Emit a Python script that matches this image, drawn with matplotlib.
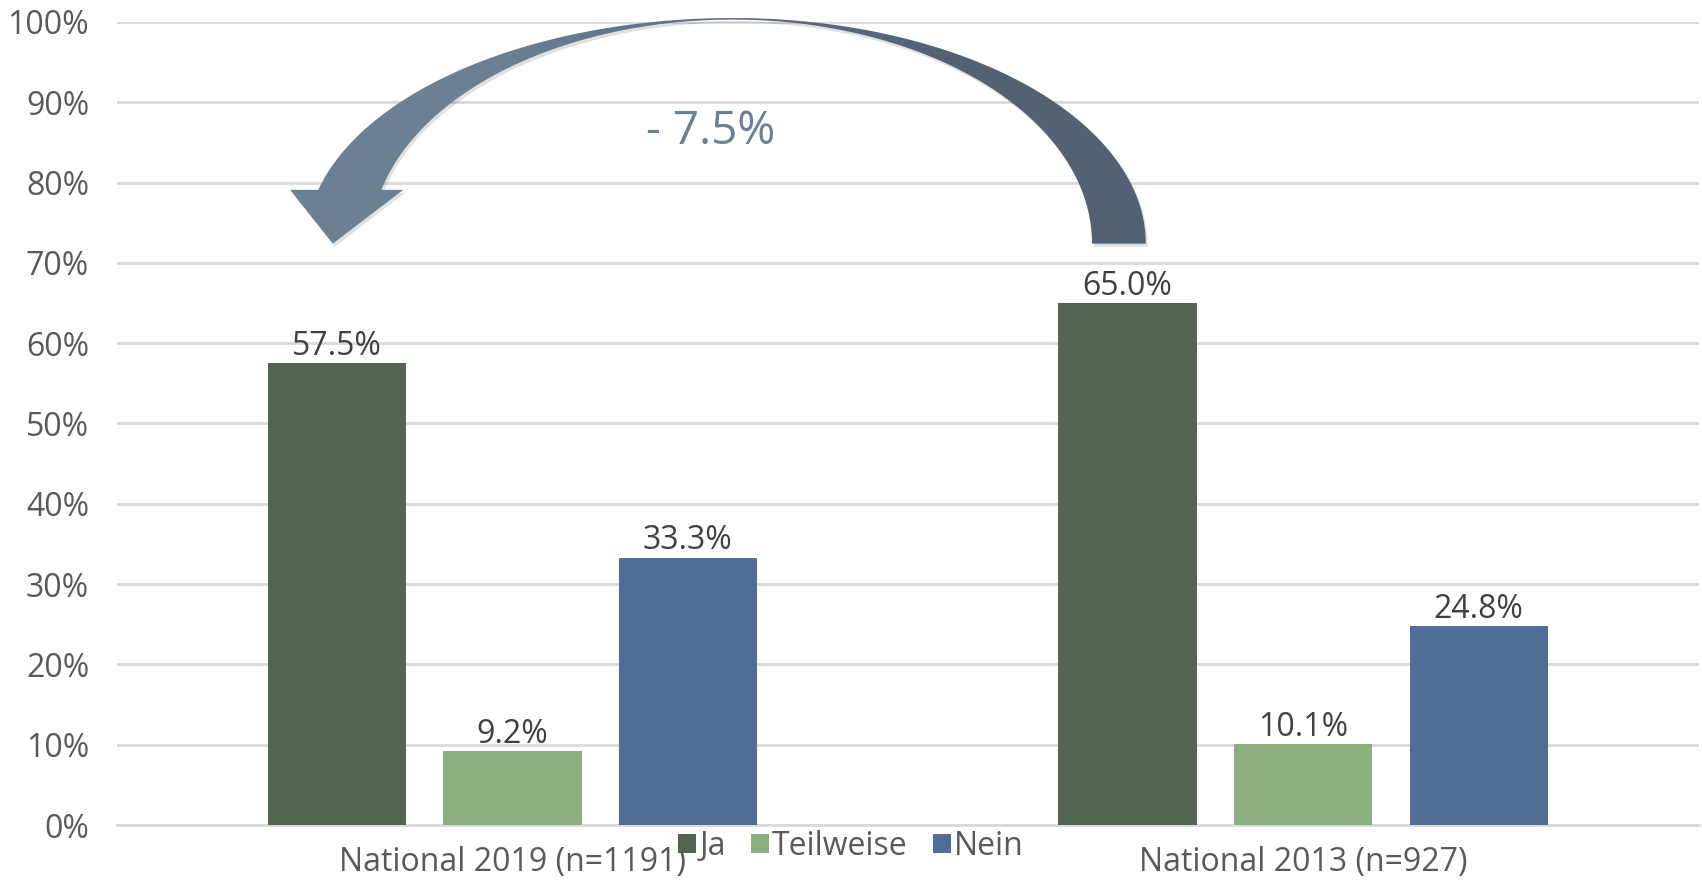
import numpy as np
import matplotlib
matplotlib.use("Agg")
import matplotlib.pyplot as plt
from matplotlib.patches import Patch, PathPatch
from matplotlib.path import Path

plt.rcParams['font.family'] = ['Open Sans', 'DejaVu Sans']

groups = ['National 2019 (n=1191)', 'National 2013 (n=927)']
series = ['Ja', 'Teilweise', 'Nein']
values = {
    'Ja': [57.5, 65.0],
    'Teilweise': [9.2, 10.1],
    'Nein': [33.3, 24.8],
}
colors = {'Ja': '#546452', 'Teilweise': '#8caf7e', 'Nein': '#506e95'}
change_label = '- 7.5%'

fig = plt.figure(figsize=(17.02, 8.8), dpi=100)
ax = fig.add_axes([0.0687, 0.0625, 0.9293, 0.9125])

x = np.arange(len(groups))
width = 0.175
step = 0.222
for i, s in enumerate(series):
    pos = x + (i - 1) * step
    ax.bar(pos, values[s], width, color=colors[s], label=s, zorder=3)
    for px, v in zip(pos, values[s]):
        ax.annotate(f'{v:.1f}%', (px, v), xytext=(0, 6), textcoords='offset points',
                    ha='center', va='baseline', fontsize=23, color='#404040')

ax.set_xlim(-0.5, 1.5)
ax.set_ylim(0, 100)
ax.set_yticks(np.arange(0, 101, 10))
ax.set_yticklabels([f'{t}%' for t in range(0, 101, 10)])
ax.set_xticks(x)
ax.set_xticklabels(groups)
ax.tick_params(axis='both', length=0, labelsize=23, labelcolor='#595959')
ax.tick_params(axis='y', pad=20)
ax.tick_params(axis='x', pad=15)
ax.grid(axis='y', color='#d9d9d9', linewidth=2, zorder=0)
for sp in ['top', 'right', 'left']:
    ax.spines[sp].set_visible(False)
ax.spines['bottom'].set_color('#d9d9d9')
ax.spines['bottom'].set_linewidth(2)

# curved arrow from 2013 "Ja" back to 2019 "Ja"
cx, cy = 0.279, 72.4
a_out_r, a_out_l, b_out = 0.522, 0.540, 28.1
a_in_r, a_in_l, b_in = 0.454, 0.458, 27.9
head_y = 79.1
head_l, head_r, tip_x, tip_y = -0.281, -0.138, -0.227, 72.4

def arc(a_r, a_l, b, t_end, n=120):
    t = np.linspace(0, t_end, n)
    a = np.where(t <= np.pi / 2, a_r, a_l)
    return cx + a * np.cos(t), cy + b * np.sin(t)

t_in = np.pi - np.arcsin((head_y - cy) / b_in)
t_out = np.pi - np.arcsin((head_y - cy) / b_out)
xi, yi = arc(a_in_r, a_in_l, b_in, t_in)
xo, yo = arc(a_out_r, a_out_l, b_out, t_out)
px = list(xi) + [head_r, tip_x, head_l] + list(xo[::-1])
py = list(yi) + [head_y, tip_y, head_y] + list(yo[::-1])
verts = list(zip(px, py)) + [(px[0], py[0])]
codes = [Path.MOVETO] + [Path.LINETO] * (len(verts) - 2) + [Path.CLOSEPOLY]
path = Path(verts, codes)

shadow = PathPatch(path, facecolor='#000000', edgecolor='none', alpha=0.12,
                   clip_on=False, zorder=4,
                   transform=ax.transData + matplotlib.transforms.ScaledTranslation(2/100, -3/100, fig.dpi_scale_trans))
ax.add_patch(shadow)
patch = PathPatch(path, facecolor='none', edgecolor='none', clip_on=False, zorder=5)
ax.add_patch(patch)
grad = np.linspace(0, 1, 256).reshape(1, -1)
cmap = matplotlib.colors.LinearSegmentedColormap.from_list(
    'arr', ['#6b8093', '#6b8093', '#5d6e80', '#536273', '#536273'])
im = ax.imshow(grad, cmap=cmap, aspect='auto', extent=(-0.3, 0.85, 72, 101), zorder=5)
im.set_clip_box(fig.bbox)
im.set_clip_path(patch)

ax.text(0.251, 86.3, change_label, ha='center', va='center', fontsize=33, color='#6b8093', zorder=6)

handles = [Patch(facecolor=colors[s], edgecolor='none') for s in series]
fig.legend(handles, series, loc='center', bbox_to_anchor=(851 / 1702, 1 - 846 / 880),
           ncol=3, frameon=False, fontsize=23, handlelength=0.55, handleheight=0.55,
           handletextpad=0.1, columnspacing=0.8, labelcolor='#595959')

fig.savefig('out.png', dpi=100)
